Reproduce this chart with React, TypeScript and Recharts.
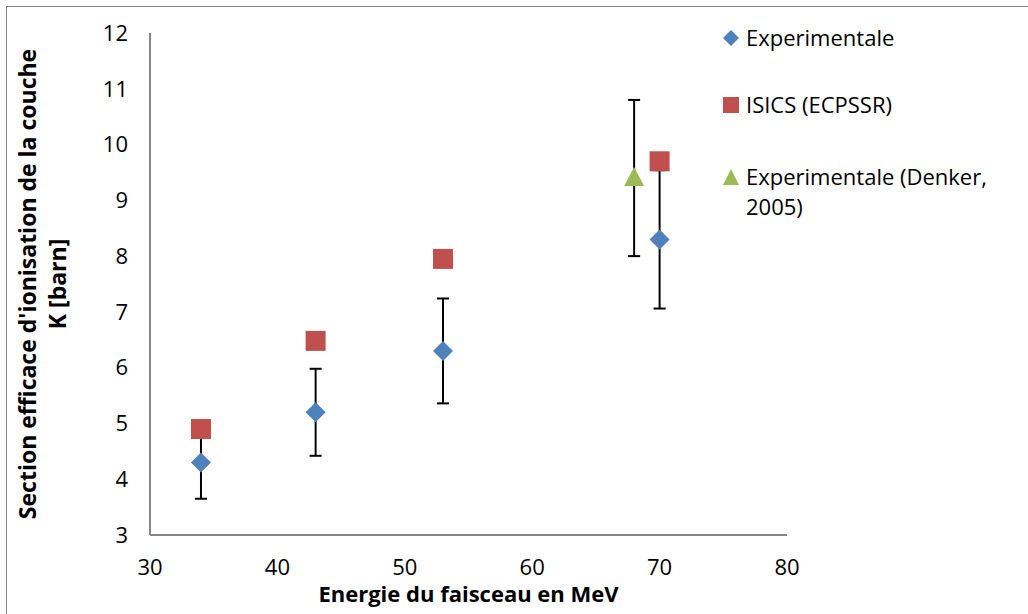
import React from "react";
import { ErrorBar, Label, Scatter, ScatterChart, XAxis, YAxis } from "recharts";

const energyTicks = [30, 40, 50, 60, 70, 80];
const sigmaTicks = [3, 4, 5, 6, 7, 8, 9, 10, 11, 12];

const expEnergy = [34, 43, 53, 70];
const expSigma = [4.3, 5.2, 6.3, 8.3];
const expError = [0.65, 0.78, 0.94, 1.24];

const isicsEnergy = [34, 43, 53, 70];
const isicsSigma = [4.9, 6.48, 7.95, 9.7];

const denkerEnergy = [68];
const denkerSigma = [9.4];
const denkerError = [1.4];

const BLUE = "#4F81BD";
const RED = "#C0504D";
const GREEN = "#9BBB59";
const AXIS = "#878787";
const FONT = "'Open Sans', sans-serif";

const expData = expEnergy.map((x, i) => ({ x, y: expSigma[i], err: expError[i] }));
const isicsData = isicsEnergy.map((x, i) => ({ x, y: isicsSigma[i] }));
const denkerData = denkerEnergy.map((x, i) => ({ x, y: denkerSigma[i], err: denkerError[i] }));

function Diamond(props: any) {
  const { cx, cy } = props;
  const r = 10;
  return <polygon points={`${cx},${cy - r} ${cx + r},${cy} ${cx},${cy + r} ${cx - r},${cy}`} fill={BLUE} />;
}

function Square(props: any) {
  const { cx, cy } = props;
  return <rect x={cx - 10} y={cy - 10} width={20} height={20} fill={RED} />;
}

function Triangle(props: any) {
  const { cx, cy } = props;
  return <polygon points={`${cx},${cy - 11} ${cx + 10},${cy + 8} ${cx - 10},${cy + 8}`} fill={GREEN} />;
}

function YTitle(props: any) {
  const { viewBox } = props;
  const cy = viewBox.y + viewBox.height / 2;
  return (
    <g fontFamily={FONT} fontWeight="bold" fontSize={23} fill="#000" textAnchor="middle">
      <text transform={`translate(36, ${cy}) rotate(-90)`}>Section efficace d'ionisation de la couche</text>
      <text transform={`translate(66, ${cy}) rotate(-90)`}>K [barn]</text>
    </g>
  );
}

const legendItems = [
  { marker: "diamond", lines: ["Experimentale"], top: 22 },
  { marker: "square", lines: ["ISICS (ECPSSR)"], top: 89 },
  { marker: "triangle", lines: ["Experimentale (Denker,", "2005)"], top: 161 },
];

function LegendMarker({ kind }: { kind: string }) {
  return (
    <svg width={18} height={18} style={{ position: "absolute", left: 0, top: 7 }}>
      {kind === "diamond" && <polygon points="9,1 17,9 9,17 1,9" fill={BLUE} />}
      {kind === "square" && <rect x={1} y={1} width={16} height={16} fill={RED} />}
      {kind === "triangle" && <polygon points="9,1 17,17 1,17" fill={GREEN} />}
    </svg>
  );
}

export default function App() {
  return (
    <div style={{ position: "absolute", left: 0, top: 0, width: 1028, height: 614, overflow: "hidden", background: "#fff" }}>
      <div
        style={{
          position: "absolute",
          left: 6,
          top: 6,
          width: 1030,
          height: 620,
          borderLeft: `1.5px solid ${AXIS}`,
          borderTop: `1.5px solid ${AXIS}`,
        }}
      />
      <div style={{ position: "absolute", left: 0, top: 0 }}>
        <ScatterChart width={1028} height={614} margin={{ top: 33, right: 241, bottom: 0, left: 0 }}>
          <XAxis
            type="number"
            dataKey="x"
            domain={[30, 80]}
            ticks={energyTicks}
            allowDataOverflow
            stroke={AXIS}
            strokeWidth={2}
            tickLine={false}
            tickSize={0}
            tickMargin={24}
            height={79}
            tick={{ fill: "#000", fontSize: 22, fontFamily: FONT }}
          >
            <Label
              value="Energie du faisceau en MeV"
              position="insideBottom"
              offset={12}
              style={{ fontFamily: FONT, fontWeight: "bold", fontSize: 22, fill: "#000" }}
            />
          </XAxis>
          <YAxis
            type="number"
            dataKey="y"
            domain={[3, 12]}
            ticks={sigmaTicks}
            allowDataOverflow
            stroke={AXIS}
            strokeWidth={2}
            tickLine={false}
            tickSize={0}
            tickMargin={22}
            width={150}
            tick={{ fill: "#000", fontSize: 22, fontFamily: FONT }}
          >
            <Label content={<YTitle />} />
          </YAxis>
          <Scatter name="Experimentale" data={expData} shape={<Diamond />} isAnimationActive={false}>
            <ErrorBar dataKey="err" direction="y" width={6} stroke="#000" strokeWidth={2} />
          </Scatter>
          <Scatter name="ISICS (ECPSSR)" data={isicsData} shape={<Square />} isAnimationActive={false} />
          <Scatter name="Experimentale (Denker, 2005)" data={denkerData} shape={<Triangle />} isAnimationActive={false}>
            <ErrorBar dataKey="err" direction="y" width={6} stroke="#000" strokeWidth={2} />
          </Scatter>
        </ScatterChart>
      </div>
      {legendItems.map((item) => (
        <div
          key={item.marker}
          style={{ position: "absolute", left: 722, top: item.top, fontFamily: FONT, fontSize: 22, lineHeight: "30px", color: "#000" }}
        >
          <LegendMarker kind={item.marker} />
          <div style={{ marginLeft: 24 }}>
            {item.lines.map((l) => (
              <div key={l}>{l}</div>
            ))}
          </div>
        </div>
      ))}
    </div>
  );
}
